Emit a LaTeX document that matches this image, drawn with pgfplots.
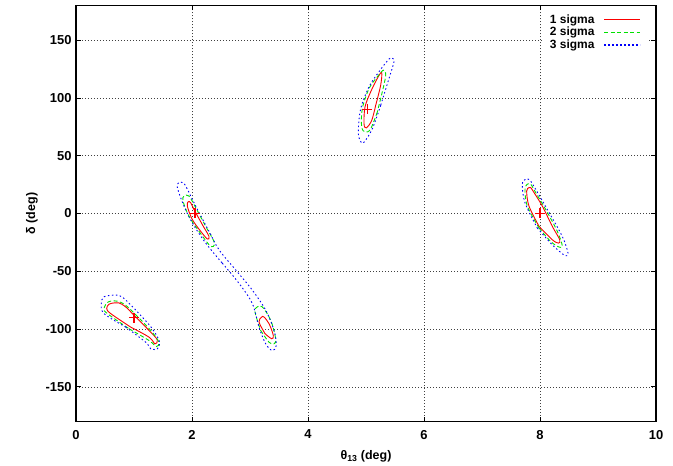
\documentclass[border=0pt]{standalone}
\usepackage{pgfplots}
\pgfplotsset{compat=1.18}
\usepackage{fontspec}
\setmainfont{Liberation Sans}
\usetikzlibrary{calc}
\definecolor{cred}{RGB}{250,0,0}
\definecolor{cgreen}{RGB}{0,225,0}
\definecolor{cblue}{RGB}{0,0,250}
\begin{document}
\begin{tikzpicture}
\begin{axis}[
  scale only axis, width=580bp, height=416bp,
  xmin=0, xmax=10, ymin=-180, ymax=180,
  xtick={0,2,...,10}, ytick={-150,-100,...,150},
  /pgf/number format/assume math mode=true,
  tick label style={font=\bfseries\fontsize{13}{15}\selectfont},
  xticklabel style={yshift=-5bp},
  yticklabel style={xshift=-1bp},
  label style={font=\bfseries\fontsize{12.5}{14}\selectfont},
  xlabel={θ\textsubscript{13} (deg)},
  ylabel={δ (deg)},
  xlabel style={at={(axis description cs:0.5,-0.0843)}, anchor=center},
  ylabel style={at={(axis description cs:-0.076,0.5)}, anchor=center},
  grid=major,
  grid style={black!75, line width=0.6bp, dash pattern=on 1bp off 2bp},
  axis line style={line width=1.1bp},
  tick style={black, line width=0.8bp},
  tick align=inside, major tick length=5bp,
  legend style={draw=none, fill=white, at={(1,1)}, anchor=north east, xshift=-9bp, yshift=-4bp,
    font=\bfseries\fontsize{12}{13}\selectfont, row sep=-1.5bp, inner xsep=6bp, inner ysep=3bp},
  legend cell align=right, legend plot pos=right,
  legend image code/.code={\path (-7bp,0bp); \draw[#1] (0bp,0bp) -- (36bp,0bp);},
  every axis plot/.append style={line width=0.9bp},
]
% legend entries
\addlegendimage{color=cred, solid, line width=1.3bp}
\addlegendentry{1 sigma}
\addlegendimage{color=cgreen, dash pattern=on 4bp off 2.5bp, line width=1.3bp}
\addlegendentry{2 sigma}
\addlegendimage{color=cblue, dash pattern=on 1.5bp off 2.5bp, line width=1.3bp}
\addlegendentry{3 sigma}
% --- contour A (around 1,-90)
\addplot[color=cred, smooth, tension=0.55, forget plot] coordinates {(0.943,-98.3) (1.259,-107.0) (1.362,-112.8) (1.402,-109.3) (1.259,-101.2) (1.029,-89.6) (0.857,-80.8) (0.741,-77.4) (0.655,-77.4) (0.569,-78.5) (0.529,-82.2) (0.598,-86.6) (0.943,-98.3)};
\addplot[color=cgreen, smooth, tension=0.55, dash pattern=on 4bp off 2.5bp, forget plot] coordinates {(0.914,-99.7) (1.259,-109.9) (1.384,-115.1) (1.431,-111.4) (1.288,-101.2) (1.057,-89.0) (0.857,-79.4) (0.712,-75.9) (0.557,-76.5) (0.483,-82.2) (0.540,-86.6) (0.914,-99.7)};
\addplot[color=cblue, smooth, tension=0.55, dash pattern=on 1.5bp off 2.5bp, forget plot] coordinates {(0.857,-98.3) (1.202,-111.4) (1.288,-117.1) (1.402,-117.1) (1.443,-111.4) (1.316,-99.7) (1.086,-86.6) (0.828,-73.5) (0.712,-70.6) (0.655,-70.6) (0.483,-72.1) (0.436,-77.9) (0.483,-86.6) (0.857,-98.3)};
% --- contour B
\addplot[color=cred, smooth, tension=0.55, forget plot] coordinates {(2.150,-15.4) (2.264,-22.1) (2.293,-19.8) (2.178,-9.6) (2.034,3.5) (1.978,9.3) (1.936,10.2) (1.919,6.4) (2.005,-5.2) (2.150,-15.4)};
\addplot[color=cred, smooth, tension=0.55, forget plot] coordinates {(3.259,-104.0) (3.374,-108.4) (3.402,-105.5) (3.328,-95.3) (3.241,-89.6) (3.202,-89.6) (3.155,-93.9) (3.259,-104.0)};
\addplot[color=cgreen, smooth, tension=0.55, dash pattern=on 4bp off 2.5bp, forget plot] coordinates {(2.121,-15.4) (2.293,-27.0) (2.367,-28.5) (2.379,-24.2) (2.236,-11.1) (2.064,5.0) (1.948,15.1) (1.862,15.1) (1.845,10.7) (1.948,-2.4) (2.121,-15.4)};
\addplot[color=cgreen, smooth, tension=0.55, dash pattern=on 4bp off 2.5bp, forget plot] coordinates {(3.184,-101.2) (3.328,-111.4) (3.414,-112.8) (3.443,-108.4) (3.357,-92.4) (3.212,-80.8) (3.126,-80.8) (3.086,-85.2) (3.184,-101.2)};
\addplot[color=cblue, smooth, tension=0.55, dash pattern=on 1.5bp off 2.5bp, forget plot] coordinates {(2.522,-43.0) (2.810,-60.4) (3.040,-77.9) (3.155,-98.3) (3.271,-112.8) (3.384,-118.6) (3.453,-114.2) (3.414,-101.2) (3.271,-83.7) (3.040,-66.3) (2.753,-48.8) (2.466,-31.4) (2.293,-15.4) (2.064,6.4) (1.891,23.8) (1.833,26.8) (1.776,26.8) (1.747,22.4) (1.862,6.4) (2.005,-8.1) (2.236,-25.6) (2.522,-43.0)};
% --- contour C
\addplot[color=cred, smooth, tension=0.55, forget plot] coordinates {(5.167,93.6) (5.098,80.5) (5.005,74.1) (4.966,77.6) (4.983,92.2) (5.081,105.3) (5.195,116.9) (5.270,122.0) (5.253,111.0) (5.167,93.6)};
\addplot[color=cgreen, smooth, tension=0.55, dash pattern=on 4bp off 2.5bp, forget plot] coordinates {(5.195,87.8) (5.081,73.3) (4.995,70.4) (4.926,74.7) (4.936,90.7) (5.052,108.1) (5.195,118.3) (5.300,124.0) (5.340,119.7) (5.281,105.3) (5.195,87.8)};
\addplot[color=cblue, smooth, tension=0.55, dash pattern=on 1.5bp off 2.5bp, forget plot] coordinates {(5.253,93.6) (5.109,73.3) (4.966,61.7) (4.909,62.2) (4.867,70.4) (4.909,90.7) (5.052,109.6) (5.224,122.7) (5.397,133.7) (5.453,134.3) (5.483,131.4) (5.397,116.9) (5.253,93.6)};
% --- contour D
\addplot[color=cred, smooth, tension=0.55, forget plot] coordinates {(7.983,-11.1) (8.212,-22.7) (8.316,-25.6) (8.340,-22.7) (8.212,-11.1) (8.040,6.4) (7.897,18.1) (7.840,22.4) (7.810,22.4) (7.770,19.4) (7.810,6.4) (7.983,-11.1)};
\addplot[color=cgreen, smooth, tension=0.55, dash pattern=on 4bp off 2.5bp, forget plot] coordinates {(7.983,-12.5) (8.184,-24.2) (8.328,-29.0) (8.384,-27.9) (8.298,-15.4) (8.098,3.5) (7.926,18.1) (7.840,25.3) (7.781,25.3) (7.741,20.9) (7.781,6.4) (7.983,-12.5)};
\addplot[color=cblue, smooth, tension=0.55, dash pattern=on 1.5bp off 2.5bp, forget plot] coordinates {(7.953,-12.5) (8.184,-25.6) (8.357,-33.7) (8.443,-36.6) (8.483,-34.3) (8.384,-19.8) (8.126,3.5) (7.926,20.9) (7.822,29.0) (7.753,29.7) (7.695,25.3) (7.741,9.3) (7.953,-12.5)};
% --- best-fit points
\addplot[color=cred, only marks, mark=+, mark size=5bp, mark options={color=cred, solid, line width=1.2bp}, forget plot] coordinates {(1,-90) (2.05,0) (5.02,90) (8,0)};
\end{axis}
\pgfresetboundingbox
\path ($(current axis.south west)+(-76bp,-44.5bp)$) rectangle ($(current axis.north east)+(17bp,5.5bp)$);
\end{tikzpicture}
\end{document}
